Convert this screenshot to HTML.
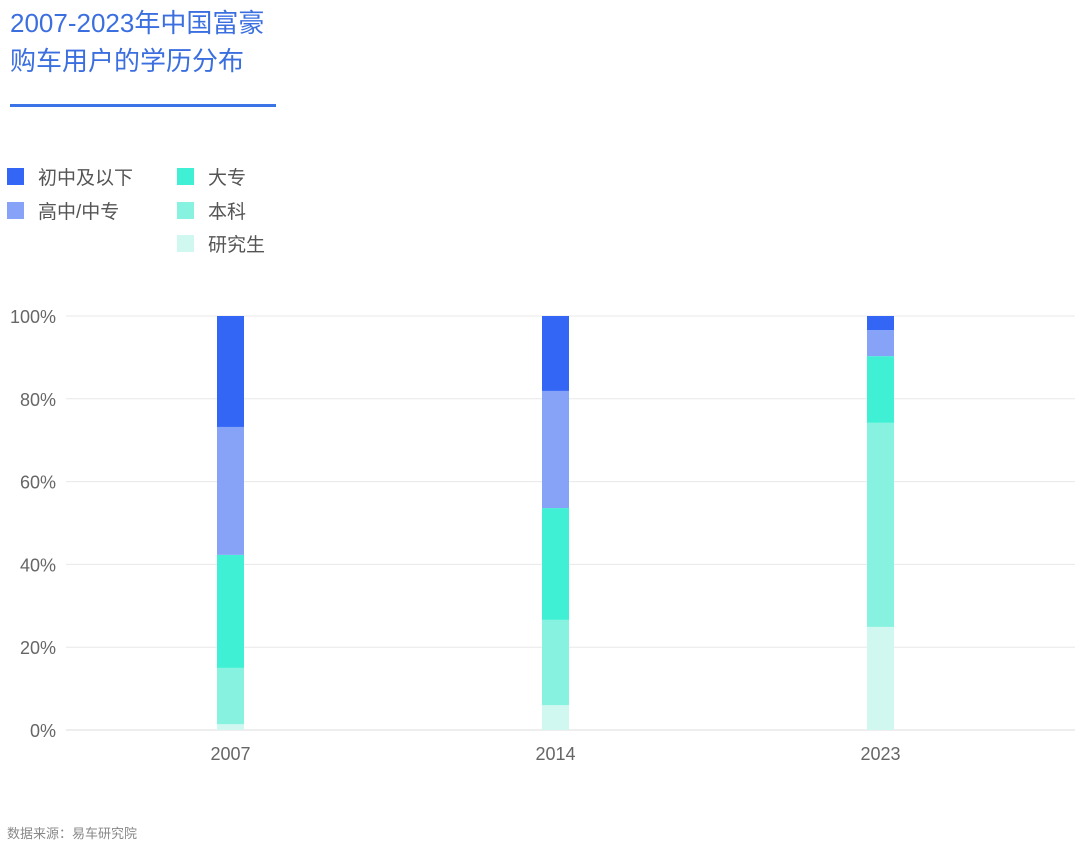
<!DOCTYPE html>
<html><head><meta charset="utf-8"><style>
body{margin:0;width:1080px;height:848px;background:#fff;font-family:"Liberation Sans","Noto Sans CJK SC",sans-serif;position:relative;overflow:hidden}
.t{position:absolute;left:10px;top:4px;font-size:26px;line-height:38px;color:#3b6fe0}
.rule{position:absolute;left:10px;top:104px;width:266px;height:3px;background:#3b74e6}
.lg{position:absolute;font-size:19px;color:#555;display:flex;align-items:center}
.lg i{display:inline-block;width:17px;height:17px;margin-right:14px}
.src{position:absolute;left:7px;top:823px;font-size:13px;color:#888}
</style></head><body>
<div class="t">2007-2023年中国富豪<br>购车用户的学历分布</div>
<div class="rule"></div>
<div class="lg" style="left:7px;top:163px"><i style="background:#3366f5"></i>初中及以下</div>
<div class="lg" style="left:7px;top:197px"><i style="background:#86a3f7"></i>高中/中专</div>
<div class="lg" style="left:177px;top:163px"><i style="background:#40f0d4"></i>大专</div>
<div class="lg" style="left:177px;top:197px"><i style="background:#88f2e0"></i>本科</div>
<div class="lg" style="left:177px;top:230px"><i style="background:#d0f8f1"></i>研究生</div>
<svg id="ch" width="1080" height="848" style="position:absolute;left:0;top:0"></svg>
<div class="src">数据来源：易车研究院</div>
<script>
const categories=["2007","2014","2023"];
const graduate=[1.4,6.0,24.9];
const bachelor=[13.6,20.6,49.3];
const college=[27.3,27.0,16.1];
const senior=[30.9,28.3,6.3];
const junior=[26.8,18.1,3.4];
const yTicks=[0,20,40,60,80,100];
const series=[graduate,bachelor,college,senior,junior];
const colors=["#d0f8f1","#88f2e0","#40f0d4","#86a3f7","#3366f5"];
const names=["graduate","bachelor","college","senior","junior"];
const NS="http://www.w3.org/2000/svg";
const svg=document.getElementById('ch');
const y=v=>730-v*4.14;
const x=i=>230.5+i*325;
function mk(t,a){const e=document.createElementNS(NS,t);for(const k in a)e.setAttribute(k,a[k]);svg.appendChild(e);return e;}
yTicks.forEach(v=>{
 const l=mk('line',{x1:66,x2:1075,y1:y(v),y2:y(v),stroke:v===0?'#ddd':'#e8e8e8','stroke-width':1});
 
 
 const t=mk('text',{x:56,y:y(v)+7,'text-anchor':'end','font-size':18,fill:'#666'});
 t.textContent=v+'%';
 
 
});
categories.forEach((c,i)=>{
 let acc=0;
 series.forEach((s,j)=>{
  const r=mk('rect',{x:x(i)-13.5,y:y(acc+s[i]),width:27,height:s[i]*4.14,fill:colors[j]});
  
  
  acc+=s[i];
 });
 const t=mk('text',{x:x(i),y:760,'text-anchor':'middle','font-size':18,fill:'#666'});
 t.textContent=c;
 
 
});
</script>
</body></html>
